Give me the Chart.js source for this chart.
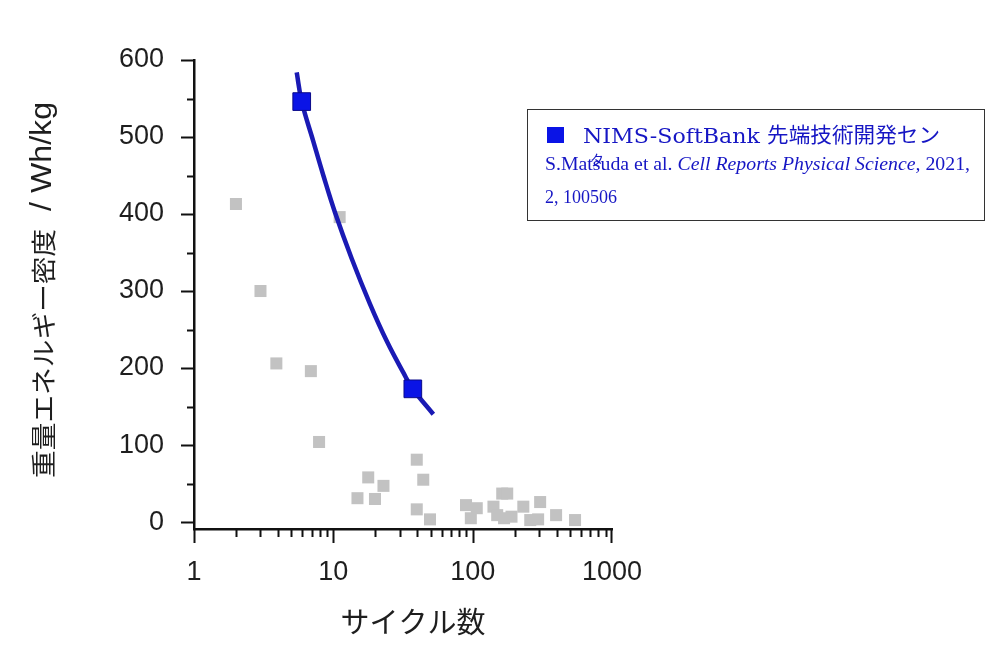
<!DOCTYPE html>
<html lang="ja">
<head>
<meta charset="utf-8">
<title>サイクル数と重量エネルギー密度</title>
<script src="https://cdn.jsdelivr.net/npm/chart.js@4.4.1/dist/chart.umd.min.js"></script>
<style>
    html, body { margin: 0; padding: 0; background: #fff; }
    #chart { display: block; }
</style>
</head>
<body>
<canvas id="chart" width="1000" height="652"></canvas>
<script>
// Other reported cells (grey squares)
const otherCycles = [2.0, 3.0, 3.9, 6.9, 7.9, 11.1, 14.9, 17.8, 19.9, 22.9, 39.7, 39.7, 44.2, 49.4,
    89.6, 97, 107, 141, 150, 163, 177, 168, 190, 231, 259, 295, 305, 397, 543];
const otherEnergy = [413, 300, 206, 196, 104, 396, 31, 58, 30, 47, 81, 16.5, 55, 3.5,
    22, 5, 18, 20, 9, 37, 37, 5, 7, 20, 2.6, 3.5, 26, 9, 2.6];

// NIMS-SoftBank cells (blue squares)
const nimsCycles = [5.93, 37.2];
const nimsEnergy = [546, 173];

// Fitted curve, points
const fitCycles = [5.46, 5.93, 7.19, 8.48, 10.28, 13.56, 18.34, 24.17, 31.81, 37.15, 52.2];
const fitEnergy = [584, 546, 494, 450, 402, 342, 283, 235, 194, 173, 140];

const xTickLabels = [1, 10, 100, 1000];
const yTickLabels = [0, 100, 200, 300, 400, 500, 600];

const xTitle = 'サイクル数';
const yTitleJa = '重量エネルギー密度';
const yTitleUnit = '  / Wh/kg';
const legendName = 'NIMS-SoftBank';
const legendNameJa = '先端技術開発セン';
const legendOverflow = 'タ';
const citeAuthors = 'S.Matsuda et al. ';
const citeJournal = 'Cell Reports Physical Science,';
const citeYear = ' 2021,';
const citeVolume = '2, 100506';

const blueText = '#1616c4';

function toPoints(xs, ys) {
    return xs.map((x, i) => ({ x: x, y: ys[i] }));
}

// draws a run of text pieces squeezed or stretched to a given width
function fitText(ctx, parts, x, y, width) {
    let total = 0;
    parts.forEach(p => { ctx.font = p.font; total += ctx.measureText(p.text).width; });
    const sx = width / total;
    ctx.save();
    ctx.translate(x, y);
    ctx.scale(sx, 1);
    let cx = 0;
    parts.forEach(p => {
        ctx.font = p.font;
        ctx.fillText(p.text, cx, 0);
        cx += ctx.measureText(p.text).width;
    });
    ctx.restore();
}

// Tick marks drawn outward, with minor ticks
const tickMarks = {
    id: 'tickMarks',
    afterDraw(chart) {
        const ctx = chart.ctx;
        const area = chart.chartArea;
        const xs = chart.scales.x;
        const ys = chart.scales.y;
        ctx.save();
        ctx.strokeStyle = '#111';
        ctx.lineWidth = 2;
        ctx.beginPath();
        for (let v = yTickLabels[0]; v <= yTickLabels[yTickLabels.length - 1]; v += 50) {
            const py = Math.round(ys.getPixelForValue(v)) + 0.5;
            const len = v % 100 === 0 ? 13 : 7;
            ctx.moveTo(area.left, py);
            ctx.lineTo(area.left - len, py);
        }
        for (let d = 1; d < 1000; d *= 10) {
            for (let m = 1; m <= 9; m++) {
                const px = Math.round(xs.getPixelForValue(m * d)) + 0.5;
                const len = m === 1 ? 14 : 8;
                ctx.moveTo(px, area.bottom);
                ctx.lineTo(px, area.bottom + len);
            }
        }
        const pEnd = Math.round(xs.getPixelForValue(1000)) - 0.5;
        ctx.moveTo(pEnd, area.bottom);
        ctx.lineTo(pEnd, area.bottom + 14);
        ctx.stroke();
        ctx.restore();
    }
};

// Axis titles
const axisTitles = {
    id: 'axisTitles',
    afterDraw(chart) {
        const ctx = chart.ctx;
        const area = chart.chartArea;
        ctx.save();
        ctx.fillStyle = '#1e1e1e';
        ctx.textAlign = 'center';
        ctx.textBaseline = 'middle';
        ctx.font = '29px "Noto Sans CJK JP", "Noto Sans", sans-serif';
        ctx.fillText(xTitle, area.left + 219, area.bottom + 93);

        ctx.textAlign = 'left';
        ctx.textBaseline = 'middle';
        ctx.translate(43, 478);
        ctx.rotate(-Math.PI / 2);
        fitText(ctx, [
            { text: yTitleJa, font: '25px "Noto Sans CJK JP", sans-serif' },
            { text: yTitleUnit, font: '29px "Liberation Sans", Arial, sans-serif' }
        ], 0, 0, 376);
        ctx.restore();
    }
};

// Legend box with the citation
const legendBox = {
    id: 'legendBox',
    afterDraw(chart) {
        const ctx = chart.ctx;
        ctx.save();
        ctx.fillStyle = '#fff';
        ctx.fillRect(527, 109, 458, 112);
        ctx.strokeStyle = '#333';
        ctx.lineWidth = 1;
        ctx.strokeRect(527.5, 109.5, 457, 111);

        ctx.fillStyle = '#0a14e6';
        ctx.fillRect(547, 127, 17, 16);

        ctx.fillStyle = blueText;
        ctx.textBaseline = 'alphabetic';
        ctx.textAlign = 'left';
        fitText(ctx, [{ text: legendName, font: '20px "DejaVu Serif", serif' }], 583, 143, 177);
        fitText(ctx, [{ text: legendNameJa, font: '21px "Noto Sans CJK JP", sans-serif' }], 767, 142, 173);
        fitText(ctx, [
            { text: citeAuthors, font: '18px "Liberation Serif", serif' },
            { text: citeJournal, font: 'italic 18px "Liberation Serif", serif' },
            { text: citeYear, font: '18px "Liberation Serif", serif' }
        ], 545, 170, 425);
        ctx.font = '18px "Liberation Serif", serif';
        ctx.fillText(citeVolume, 545, 203);
        ctx.font = '14px "Noto Sans CJK JP", sans-serif';
        ctx.fillText(legendOverflow, 590, 165);
        ctx.restore();
    }
};

const ctx = document.getElementById('chart').getContext('2d');

new Chart(ctx, {
    type: 'scatter',
    data: {
        datasets: [
            {
                label: 'NIMS-SoftBank',
                data: toPoints(nimsCycles, nimsEnergy),
                pointStyle: 'rect',
                pointRadius: 12.5,
                backgroundColor: '#0a14e6',
                borderColor: '#0b0b8a',
                borderWidth: 1,
                order: 0
            },
            {
                label: 'fit',
                type: 'line',
                data: toPoints(fitCycles, fitEnergy),
                borderColor: '#1a1ab4',
                borderWidth: 4.5,
                pointRadius: 0,
                fill: false,
                tension: 0.4,
                order: 1
            },
            {
                label: 'others',
                data: toPoints(otherCycles, otherEnergy),
                pointStyle: 'rect',
                pointRadius: 8.5,
                backgroundColor: '#c2c2c2',
                borderWidth: 0,
                order: 2
            }
        ]
    },
    options: {
        responsive: false,
        animation: false,
        layout: { padding: { left: 0, top: 60, right: 388, bottom: 0 } },
        plugins: {
            legend: { display: false },
            tooltip: { enabled: false }
        },
        scales: {
            x: {
                type: 'logarithmic',
                min: 1,
                max: 1000,
                grid: { display: false },
                border: { display: true, color: '#111', width: 2.5 },
                afterBuildTicks: (scale) => { scale.ticks = xTickLabels.map(v => ({ value: v })); },
                ticks: {
                    autoSkip: false,
                    maxRotation: 0,
                    padding: 19,
                    color: '#1e1e1e',
                    font: { family: '"Liberation Sans", Arial, sans-serif', size: 27 },
                    callback: (v) => String(v)
                },
                afterFit: (scale) => { scale.height = 123; }
            },
            y: {
                min: -9,
                max: 600,
                grid: { display: false },
                border: { display: true, color: '#111', width: 2.5 },
                afterBuildTicks: (scale) => { scale.ticks = yTickLabels.map(v => ({ value: v })); },
                ticks: {
                    autoSkip: false,
                    padding: 22,
                    color: '#1e1e1e',
                    font: { family: '"Liberation Sans", Arial, sans-serif', size: 27 },
                    callback: (v) => String(v)
                },
                afterFit: (scale) => { scale.width = 194; }
            }
        }
    },
    plugins: [tickMarks, axisTitles, legendBox]
});
</script>
</body>
</html>
